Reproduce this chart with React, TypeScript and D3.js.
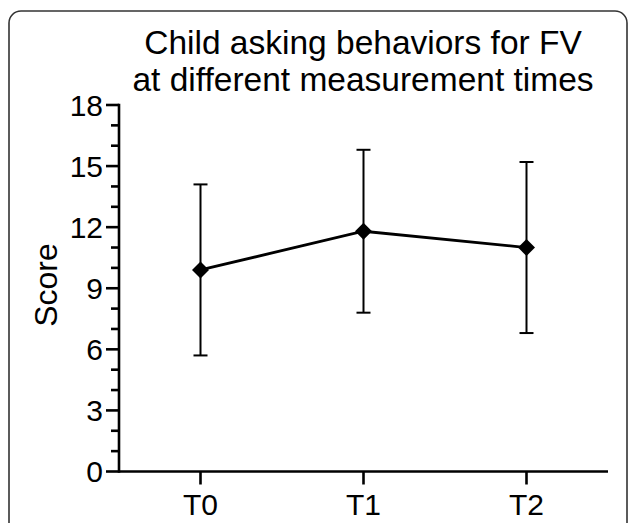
import React from "react";
import * as d3 from "d3";

const times = ["T0", "T1", "T2"];
const means = [9.9, 11.8, 11.0];
const lower = [5.7, 7.8, 6.8];
const upper = [14.1, 15.8, 15.2];
const yTicks = [0, 3, 6, 9, 12, 15, 18];
const titleLines = ["Child asking behaviors for FV", "at different measurement times"];

const font = "'Liberation Sans', Arial, Helvetica, sans-serif";

export default function App() {
  const width = 629;
  const height = 523;
  const margin = { top: 105, right: 21, bottom: 51, left: 119 };

  const x = d3.scalePoint<string>()
    .domain(times)
    .range([margin.left, width - margin.right])
    .padding(0.5);

  const y = d3.scaleLinear()
    .domain([0, 18])
    .range([height - margin.bottom - 0.5, margin.top]);

  const minorTicks = d3.range(0, 19, 1).filter(v => v % 3 !== 0);

  const line = d3.line<number>()
    .x((_, i) => x(times[i]) as number)
    .y(d => y(d));

  const diamond = d3.symbol().type(d3.symbolSquare).size(145)();

  const x0 = margin.left;
  const y0 = y(0);
  const capHalf = 7;

  return (
    <svg width={width} height={height} style={{ display: "block", position: "absolute", left: 0, top: 0 }}>
      <rect x={9} y={11} width={618} height={540} rx={12} ry={12} fill="white" stroke="#333" strokeWidth={1.6} />

      {/* title */}
      <g fontFamily={font} fontSize={33.5} textAnchor="middle" fill="#000">
        {titleLines.map((t, i) => (
          <text key={t} x={363} y={54 + i * 37}>{t}</text>
        ))}
      </g>

      {/* axes */}
      <g stroke="#000" strokeWidth={2.6}>
        <line x1={x0} x2={x0} y1={y(18) - 1.3} y2={y0 + 1.3} />
        {yTicks.map(v => (
          <line key={"M" + v} x1={x0 - 13} x2={x0} y1={y(v)} y2={y(v)} />
        ))}
        {minorTicks.map(v => (
          <line key={"m" + v} x1={x0 - 8} x2={x0} y1={y(v)} y2={y(v)} />
        ))}
        <line x1={x0} x2={width - margin.right} y1={y0} y2={y0} />
        {times.map(t => (
          <line key={t} x1={x(t)} x2={x(t)} y1={y0} y2={y0 + 13} />
        ))}
      </g>
      <g fontFamily={font} fontSize={30} fill="#000">
        {yTicks.map(v => (
          <text key={v} x={x0 - 16} y={y(v)} dy="0.36em" textAnchor="end">{v}</text>
        ))}
        {times.map(t => (
          <text key={t} x={x(t)} y={y0 + 43} textAnchor="middle">{t}</text>
        ))}
        <text fontSize={32} transform={`translate(57,285) rotate(-90)`} textAnchor="middle">Score</text>
      </g>

      {/* error bars */}
      <g stroke="#000" strokeWidth={2}>
        {times.map((t, i) => (
          <g key={t}>
            <line x1={x(t)} x2={x(t)} y1={y(lower[i])} y2={y(upper[i])} />
            <line x1={(x(t) as number) - capHalf} x2={(x(t) as number) + capHalf} y1={y(lower[i])} y2={y(lower[i])} />
            <line x1={(x(t) as number) - capHalf} x2={(x(t) as number) + capHalf} y1={y(upper[i])} y2={y(upper[i])} />
          </g>
        ))}
      </g>

      {/* mean line */}
      <path d={line(means) as string} fill="none" stroke="#000" strokeWidth={2.8} />
      {means.map((m, i) => (
        <path key={i} d={diamond as string} fill="#000"
          transform={`translate(${x(times[i])},${y(m)}) rotate(45)`} />
      ))}
    </svg>
  );
}
